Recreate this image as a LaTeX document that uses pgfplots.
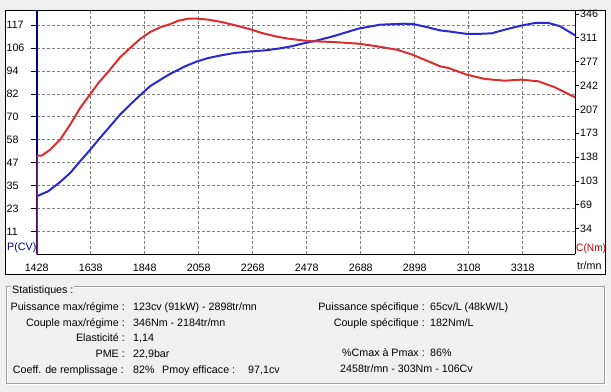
\documentclass[border=0pt]{standalone}
\usepackage{pgfplots}
\pgfplotsset{compat=1.18}
\usepackage{fontspec}
\setmainfont{Liberation Sans}
\definecolor{winbg}{RGB}{240,240,240}
\definecolor{pblue}{RGB}{40,40,215}
\definecolor{cred}{RGB}{220,45,45}
\definecolor{navy}{RGB}{0,0,128}
\definecolor{dred}{RGB}{192,0,0}
\definecolor{gridgray}{RGB}{128,128,128}
\definecolor{framegray}{RGB}{160,160,160}
\begin{document}
\fontsize{10.7bp}{12bp}\selectfont
\begin{tikzpicture}[font=\fontsize{10.7bp}{12bp}\selectfont]
\useasboundingbox (0,0) rectangle (611bp,392bp);
\fill[winbg] (0,0) rectangle (611bp,392bp);
\filldraw[fill=white, draw=black, line width=1bp] (5.5bp,117.5bp) rectangle (605.5bp,381.5bp);

\begin{axis}[
  at={(36.7bp,137.5bp)}, anchor=south west,
  width=538.3bp, height=244bp, scale only axis,
  xmin=1428, xmax=3521, ymin=0, ymax=124.55,
  axis line style={draw=none},
  xtick={1428,1638,1848,2058,2268,2478,2688,2898,3108,3318},
  xticklabels={1428,1638,1848,2058,2268,2478,2688,2898,3108,3318},
  ytick={11.7,23.4,35.1,46.8,58.5,70.2,81.9,93.6,105.3,117},
  yticklabels={11,23,35,47,58,70,82,94,106,117},
  grid=major,
  major grid style={gridgray, dash pattern=on 3bp off 2bp, line width=1bp},
  tick align=outside, major tick length=6bp,
  xtick style={draw=none},
  ytick style={black, line width=1bp},
  ytick pos=left, xtick pos=left,
  yticklabel style={anchor=west, inner sep=0pt, xshift=-24.3bp},
  xticklabel style={anchor=center, inner sep=0pt, yshift=-7.2bp},
  tick label style={font=\fontsize{10.7bp}{12bp}\selectfont},
]
\addplot[pblue, line width=2bp] coordinates {
(1428,29.7)(1473,32.3)(1519,37.0)(1558,41.6)(1597,47.6)(1633,53.0)(1674,59.5)(1713,65.4)(1752,71.4)(1791,76.5)(1830,81.3)(1869,85.9)(1909,89.2)(1948,92.3)(1967,93.5)(2005,96.1)(2053,98.6)(2095,100.3)(2147,101.7)(2199,102.9)(2264,103.7)(2316,104.2)(2368,105.1)(2420,106.3)(2472,108.0)(2504,108.8)(2581,111.4)(2679,115.3)(2763,117.3)(2854,117.8)(2889,117.7)(2945,116.1)(2996,114.4)(3029,113.9)(3100,112.6)(3145,112.6)(3197,112.9)(3249,114.8)(3310,116.8)(3366,118.2)(3418,118.2)(3463,116.5)(3521,111.9)
};
\end{axis}

\draw[navy, line width=2bp] (36.7bp,137.5bp) -- (36.7bp,381.5bp);

\begin{axis}[
  at={(36.7bp,137.5bp)}, anchor=south west,
  width=538.3bp, height=244bp, scale only axis,
  xmin=1428, xmax=3521, ymin=-2.76, ymax=351.1,
  axis line style={draw=none},
  xtick=\empty,
  ytick={34.6,69.2,103.8,138.4,173,207.6,242.2,276.8,311.4,346},
  yticklabels={34,69,103,138,173,207,242,277,311,346},
  ytick pos=right, yticklabel pos=right,
  tick align=outside, major tick length=4bp,
  ytick style={black, line width=1bp},
  yticklabel style={anchor=west, inner sep=0pt, xshift=1bp},
  tick label style={font=\fontsize{10.7bp}{12bp}\selectfont},
]
\addplot[cred, line width=2bp] coordinates {
(1428,-2.8)(1428,140.5)(1447,140.5)(1480,149.2)(1519,163.7)(1558,185.5)(1597,209.7)(1633,228.1)(1668,246.0)(1713,265.3)(1752,283.2)(1791,296.7)(1830,309.8)(1869,319.9)(1909,326.8)(1948,331.5)(1979,336.3)(2018,339.2)(2053,339.2)(2095,337.8)(2147,334.4)(2199,329.7)(2264,323.3)(2303,318.5)(2355,313.7)(2407,310.2)(2472,307.3)(2504,306.5)(2581,305.4)(2679,303.0)(2750,299.2)(2828,294.3)(2889,287.0)(2945,278.3)(2996,270.2)(3029,267.7)(3100,258.0)(3171,251.8)(3249,249.3)(3310,250.8)(3379,248.4)(3443,239.7)(3521,225.2)
};
\end{axis}

\draw[black, line width=1bp] (36.7bp,137.5bp) -- (575bp,137.5bp);
\draw[black, line width=1bp] (575bp,137.5bp) -- (575bp,381.5bp);

\node[navy, anchor=west, inner sep=0pt] at (7bp,144bp) {P(CV)};
\node[dred, anchor=west, inner sep=0pt, xscale=0.95] at (576bp,143bp) {C(Nm)};
\node[anchor=west, inner sep=0pt] at (577bp,126.3bp) {tr/mn};

% statistics frame
\draw[white, line width=1bp] (7.5bp,7.5bp) rectangle (605.5bp,104.5bp);
\draw[framegray, line width=1bp] (6.5bp,8.5bp) rectangle (604.5bp,105.5bp);
\begin{scope}[every node/.style={inner sep=0pt, text height=7.5bp, text depth=0pt}]
\node[anchor=west, fill=winbg, inner xsep=1bp, inner ysep=1.5bp] at (11bp,102bp) {Statistiques :};
\node[anchor=east] at (125bp,85.3bp) {Puissance max/régime :};
\node[anchor=west] at (133bp,85.3bp) {123cv (91kW) - 2898tr/mn};
\node[anchor=east] at (125bp,69.7bp) {Couple max/régime :};
\node[anchor=west] at (133bp,69.7bp) {346Nm - 2184tr/mn};
\node[anchor=east] at (125bp,54.3bp) {Elasticité :};
\node[anchor=west] at (133bp,54.3bp) {1,14};
\node[anchor=east] at (125bp,38bp) {PME :};
\node[anchor=west] at (133bp,38bp) {22,9bar};
\node[anchor=east] at (124bp,22.7bp) {Coeff. de remplissage :};
\node[anchor=west] at (133bp,22.7bp) {82\%};
\node[anchor=west] at (162bp,22.7bp) {Pmoy efficace :};
\node[anchor=west] at (248bp,22.7bp) {97,1cv};
\node[anchor=east] at (425bp,85.3bp) {Puissance spécifique :};
\node[anchor=west] at (430bp,85.3bp) {65cv/L (48kW/L)};
\node[anchor=east] at (425bp,69.7bp) {Couple spécifique :};
\node[anchor=west] at (430bp,69.7bp) {182Nm/L};
\node[anchor=east] at (425bp,39bp) {\%Cmax à Pmax :};
\node[anchor=west] at (430bp,39bp) {86\%};
\node[anchor=west] at (340bp,23.5bp) {2458tr/mn - 303Nm - 106Cv};
\end{scope}
\end{tikzpicture}
\end{document}
